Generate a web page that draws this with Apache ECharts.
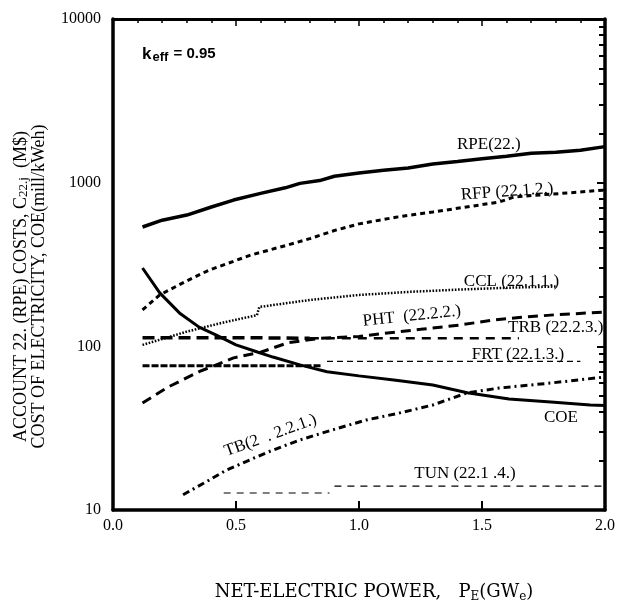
<!DOCTYPE html>
<html><head><meta charset="utf-8">
<script src="https://cdn.jsdelivr.net/npm/echarts@6/dist/echarts.min.js"></script>
<style>html,body{margin:0;padding:0;background:#fff}#c{width:625px;height:604px}</style>
</head><body><div id="c"></div>
<script>
// ---- data ----
const xTickLabels = ['0.0','0.5','1.0','1.5','2.0'];
const yTickValues = [10, 100, 1000, 10000];

const rpe = [[0.12,536],[0.2,590],[0.3,634],[0.4,710],[0.49,783],[0.6,860],[0.7,930],[0.76,990],[0.84,1030],[0.9,1095],[1.0,1145],[1.1,1190],[1.2,1230],[1.3,1300],[1.4,1345],[1.5,1400],[1.6,1450],[1.7,1515],[1.8,1535],[1.9,1580],[2.0,1660]];
const rfp = [[0.12,167],[0.19,206],[0.29,247],[0.39,292],[0.56,361],[0.71,416],[0.8,455],[0.9,510],[1.0,560],[1.15,615],[1.3,662],[1.45,715],[1.57,762],[1.63,817],[1.75,845],[1.85,865],[2.0,902]];
const ccl = [[0.12,102],[0.3,123],[0.45,140],[0.585,155],[0.595,174],[0.8,192],[1.0,206],[1.2,215],[1.4,222],[1.6,228],[1.8,232]];
const pht = [[0.12,45],[0.22,56],[0.35,70],[0.49,85],[0.6,92],[0.71,105],[0.84,112],[1.0,115],[1.1,120],[1.25,127],[1.41,135],[1.55,145],[1.65,150],[1.8,156],[2.0,162]];
const trbLeft  = [[0.12,113],[0.5,113],[0.8,112]];
const trbRight = [[0.8,112],[1.0,112],[1.3,112],[1.65,112]];
const frtLeft  = [[0.12,76],[0.85,76]];
const frtRight = [[0.87,81],[1.9,81]];
const coe = [[0.12,301],[0.19,212],[0.27,160],[0.35,131],[0.42,117],[0.5,102],[0.59,92],[0.65,86],[0.76,77],[0.87,70],[1.0,66],[1.15,62],[1.3,58],[1.44,52],[1.61,47.6],[1.78,45.7],[1.94,43.8],[2.0,43.5]];
const tb  = [[0.285,12.4],[0.39,15.2],[0.46,17.5],[0.63,22.6],[0.76,26.8],[0.89,30.8],[1.03,35.5],[1.16,39],[1.3,43.8],[1.44,52],[1.57,55.6],[1.78,59.7],[1.9,62.5],[2.0,65]];
const tunLeft  = [[0.45,12.7],[0.88,12.7]];
const tunRight = [[0.9,14],[2.0,14]];

const curveNames = ['RPE(22.)','RFP (22.1.2.)','CCL (22.1.1.)','PHT  (22.2.2.)','TRB (22.2.3.)','FRT (22.1.3.)','COE','TB(2  . 2.2.1.)','TUN (22.1 .4.)'];

// ---- series definitions: data, style, label anchor (data coords) ----
const SERIF = "'Liberation Serif','DejaVu Serif',serif";
const defs = [
  {d:rpe,      w:3.5, t:'solid',    lab:0, at:[1.528,1700,0]},
  {d:rfp,      w:3,   t:[5,4],      lab:1, at:[1.602,880,4]},
  {d:ccl,      w:2.5, t:[1.6,1.6],  lab:2, at:[1.62,250,0]},
  {d:pht,      w:3,   t:[10,6],     lab:3, at:[1.215,153,6]},
  {d:trbLeft,  w:3.5, t:[12,6],     lab:4, at:[1.80,130,0]},
  {d:trbRight, w:2.5, t:[9,7]},
  {d:frtLeft,  w:3,   t:[7,2]},
  {d:frtRight, w:1.2, t:[6,4],      lab:5, at:[1.646,89,0]},
  {d:coe,      w:3,   t:'solid',    lab:6, at:[1.821,36.5,0]},
  {d:tb,       w:3,   t:[7,4,2,4],  lab:7, at:[0.64,28.5,20]},
  {d:tunLeft,  w:1.2, t:[7,6]},
  {d:tunRight, w:1.2, t:[7,6],      lab:8, at:[1.431,16.6,0]}
];

const chart = echarts.init(document.getElementById('c'), null, {renderer:'canvas'});

const series = defs.map((s)=>{
  const o = {
    type:'line', data:s.d, xAxisIndex:0, yAxisIndex:0,
    showSymbol:false, symbol:'none', smooth:false, animation:false,
    lineStyle:{color:'#000', width:s.w, type:s.t}
  };
  if (s.lab !== undefined) {
    o.name = curveNames[s.lab];
    o.markPoint = {
      symbol:'circle', symbolSize:0, animation:false,
      data:[{coord:[s.at[0], s.at[1]], value: curveNames[s.lab]}],
      label:{show:true, position:'inside', formatter: curveNames[s.lab], color:'#000',
        fontFamily: SERIF, fontSize:17, rotate: s.at[2]}
    };
  }
  return o;
});

chart.setOption({
  animation:false,
  backgroundColor:'#fff',
  title:{
    left:137, top:39,
    text:'{a|k}{b|eff}{c| = 0.95}',
    textStyle:{rich:{
      a:{fontFamily:"'Liberation Sans',Arial,sans-serif", fontWeight:'bold', fontSize:17, color:'#000', lineHeight:20, verticalAlign:'middle'},
      b:{fontFamily:"'Liberation Sans',Arial,sans-serif", fontWeight:'bold', fontSize:13, color:'#000', lineHeight:20, verticalAlign:'bottom', padding:[9,1,0,1]},
      c:{fontFamily:"'Liberation Sans',Arial,sans-serif", fontWeight:'bold', fontSize:15, color:'#000', lineHeight:20, verticalAlign:'middle'}
    }}
  },
  grid:{left:113, right:20, top:19, bottom:94, containLabel:false, outerBoundsMode:'none'},
  xAxis:[{
    type:'value', position:'bottom', min:0, max:2, interval:0.5,
    axisLine:{show:true, onZero:false, lineStyle:{color:'#000', width:3.5}},
    axisTick:{show:true, inside:true, length:9, lineStyle:{color:'#000', width:2}},
    splitLine:{show:false},
    axisLabel:{color:'#000', fontFamily:SERIF, fontSize:16, margin:8,
      formatter:(v)=>xTickLabels[Math.round(v*2)]},
    name:'NET-ELECTRIC POWER,   P{s|E}(GW{s|e})', nameLocation:'middle', nameGap:71,
    nameTextStyle:{color:'#000', fontFamily:"'DejaVu Serif',serif", fontSize:18, padding:[0,0,0,30], verticalAlign:'top',
      rich:{s:{fontFamily:"'DejaVu Serif',serif", fontSize:12, color:'#000', verticalAlign:'bottom', padding:[10,0,0,0]}}}
  },{
    type:'value', position:'top', min:0, max:2, interval:0.5,
    axisLine:{show:true, onZero:false, lineStyle:{color:'#000', width:3}},
    axisTick:{show:true, inside:true, length:7, lineStyle:{color:'#000', width:1.5}},
    minorTick:{show:true, splitNumber:5, length:4, lineStyle:{color:'#000', width:1.5}},
    axisLabel:{show:false}, splitLine:{show:false}
  }],
  yAxis:[{
    type:'log', logBase:10, min:10, max:10000, position:'left',
    axisLine:{show:true, onZero:false, lineStyle:{color:'#000', width:3.5}},
    axisTick:{show:false},
    splitLine:{show:false},
    axisLabel:{color:'#000', fontFamily:SERIF, fontSize:16, margin:12,
      formatter:(v)=> yTickValues.includes(Math.round(v)) ? String(Math.round(v)) : ''},
    name:'{t|ACCOUNT 22. (RPE) COSTS, C}{s|22.j}{t|  (M$)}\n{t|COST OF ELECTRICITY, COE(mill/kWeh)}',
    nameLocation:'middle', nameRotate:90, nameGap:65,
    nameTextStyle:{color:'#000', padding:[0,44,0,0],
      rich:{
        t:{fontFamily:SERIF, fontSize:18, color:'#000', lineHeight:18},
        s:{fontFamily:SERIF, fontSize:13, color:'#000', lineHeight:18, verticalAlign:'bottom', padding:[7,0,0,0]}
      }}
  },{
    type:'log', logBase:10, min:10, max:10000, position:'right',
    axisLine:{show:true, onZero:false, lineStyle:{color:'#000', width:3.5}},
    axisTick:{show:true, inside:true, length:8, lineStyle:{color:'#000', width:2}},
    minorTick:{show:true, splitNumber:9, length:6, lineStyle:{color:'#000', width:2}},
    axisLabel:{show:false}, splitLine:{show:false}
  }],
  series: series
});
</script></body></html>
